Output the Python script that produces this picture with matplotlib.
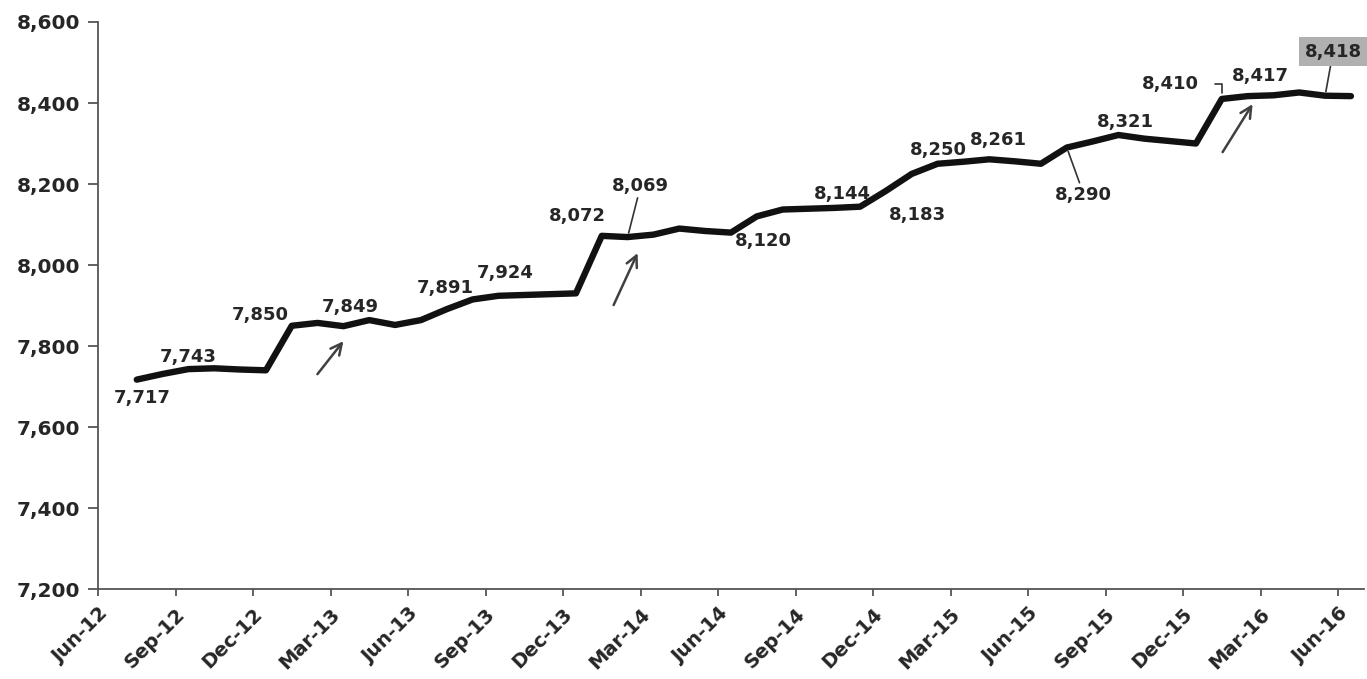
import numpy as np
import matplotlib
matplotlib.use("Agg")
import matplotlib.pyplot as plt
from matplotlib.transforms import offset_copy

# valores mensuales Jul-12 .. Jun-16
values = [
    7717, 7731, 7743, 7745, 7742, 7740,   # Jul-Dec 12
    7850, 7857, 7849, 7864, 7852, 7864,   # Jan-Jun 13
    7891, 7915, 7924, 7926, 7928, 7930,   # Jul-Dec 13
    8072, 8069, 8075, 8090, 8084, 8080,   # Jan-Jun 14
    8120, 8137, 8139, 8141, 8144, 8183,   # Jul-Dec 14
    8225, 8250, 8255, 8261, 8256, 8250,   # Jan-Jun 15
    8290, 8305, 8321, 8312, 8306, 8300,   # Jul-Dec 15
    8410, 8417, 8419, 8426, 8418, 8417,   # Jan-Jun 16
]
tick_labels = ["Jun-12", "Sep-12", "Dec-12", "Mar-13", "Jun-13", "Sep-13",
               "Dec-13", "Mar-14", "Jun-14", "Sep-14", "Dec-14", "Mar-15",
               "Jun-15", "Sep-15", "Dec-15", "Mar-16", "Jun-16"]
y_ticks = [7200, 7400, 7600, 7800, 8000, 8200, 8400, 8600]

# puntos con etiqueta (indice del mes, 1 = Jul-12)
labeled = [1, 3, 7, 9, 13, 15, 19, 20, 25, 29, 30, 32, 34, 37, 39, 43, 44, 47]
arrow_points = [9, 20, 44]

# desplazamiento de etiquetas en pixeles (dx, dy hacia abajo)
label_pos = {1: (5, 18), 3: (0, -12), 7: (-32, -11), 9: (7, -19),
             13: (-2, -21), 15: (7, -23), 19: (-24, -20), 20: (13, -51),
             25: (7, 25), 29: (-18, -13), 30: (32, 24), 32: (1, -14),
             34: (9, -19), 37: (17, 47), 39: (7, -13), 43: (-51, -15),
             44: (13, -20), 47: (8, -44)}
leaders = [20, 37, 47]
arrow_pos = {9: ((-26, 48), (0, 15)), 20: ((-14, 68), (10, 16)),
             44: ((-25, 56), (5, 8))}

plt.rcParams['font.family'] = ['DejaVu Sans']
txt = '#262626'

fig = plt.figure(figsize=(13.67, 6.79), dpi=100)
ax = fig.add_axes([0.0717, 0.1325, 0.926, 0.8351])

x = np.arange(1, len(values) + 1) + 0.5
ax.plot(x, values, color='#111111', lw=4.6, solid_joinstyle='round',
        solid_capstyle='round', zorder=3)

ax.set_xlim(0, 49)
ax.set_ylim(7200, 8600)
ax.set_xticks(np.arange(0, 49, 3))
ax.set_xticklabels(tick_labels)
ax.set_yticks(y_ticks)
ax.set_yticklabels([f"{v:,}" for v in y_ticks])
for s in ['top', 'right']:
    ax.spines[s].set_visible(False)
for s in ['left', 'bottom']:
    ax.spines[s].set_color('#555555')
    ax.spines[s].set_linewidth(1.3)
ax.tick_params(axis='y', length=7, width=1.3, color='#555555', pad=6,
               labelsize=14.5, labelcolor=txt)
ax.tick_params(axis='x', length=5, width=1.3, color='#555555', pad=6,
               labelsize=14, labelcolor=txt)
for lab in ax.get_yticklabels() + ax.get_xticklabels():
    lab.set_fontweight('bold')
plt.setp(ax.get_xticklabels(), rotation=45, ha='right', rotation_mode='anchor')

for k in labeled:
    dx, dy = label_pos[k]
    v = values[k - 1]
    kw = dict(xy=(k + 0.5, v), xytext=(dx, -dy), textcoords='offset pixels',
              ha='center', va='center', fontsize=13, fontweight='bold',
              color=txt, zorder=4)
    if k in leaders:
        kw['arrowprops'] = dict(arrowstyle='-', color='#333333', lw=1.2,
                                shrinkA=0, shrinkB=3)
    if k == 43:
        kw['arrowprops'] = dict(arrowstyle='-', color='#333333', lw=1.2,
                                shrinkA=9, shrinkB=4,
                                connectionstyle='angle,angleA=0,angleB=90,rad=0')
    if k == 47:
        kw['bbox'] = dict(boxstyle='square,pad=0.3', fc='#b0b0b0', ec='none')
    ax.annotate(f"{v:,}", **kw)

for k in arrow_points:
    (tx, ty), (hx, hy) = arrow_pos[k]
    v = values[k - 1]
    tail = offset_copy(ax.transData, fig=fig, x=tx, y=-ty, units='dots')
    head = offset_copy(ax.transData, fig=fig, x=hx, y=-hy, units='dots')
    ax.annotate('', xy=(k + 0.5, v), xycoords=head,
                xytext=(k + 0.5, v), textcoords=tail,
                arrowprops=dict(arrowstyle='->,head_length=0.8,head_width=0.4',
                                color='#404040', lw=1.8, shrinkA=0, shrinkB=0))

fig.savefig('out.png', dpi=100)
